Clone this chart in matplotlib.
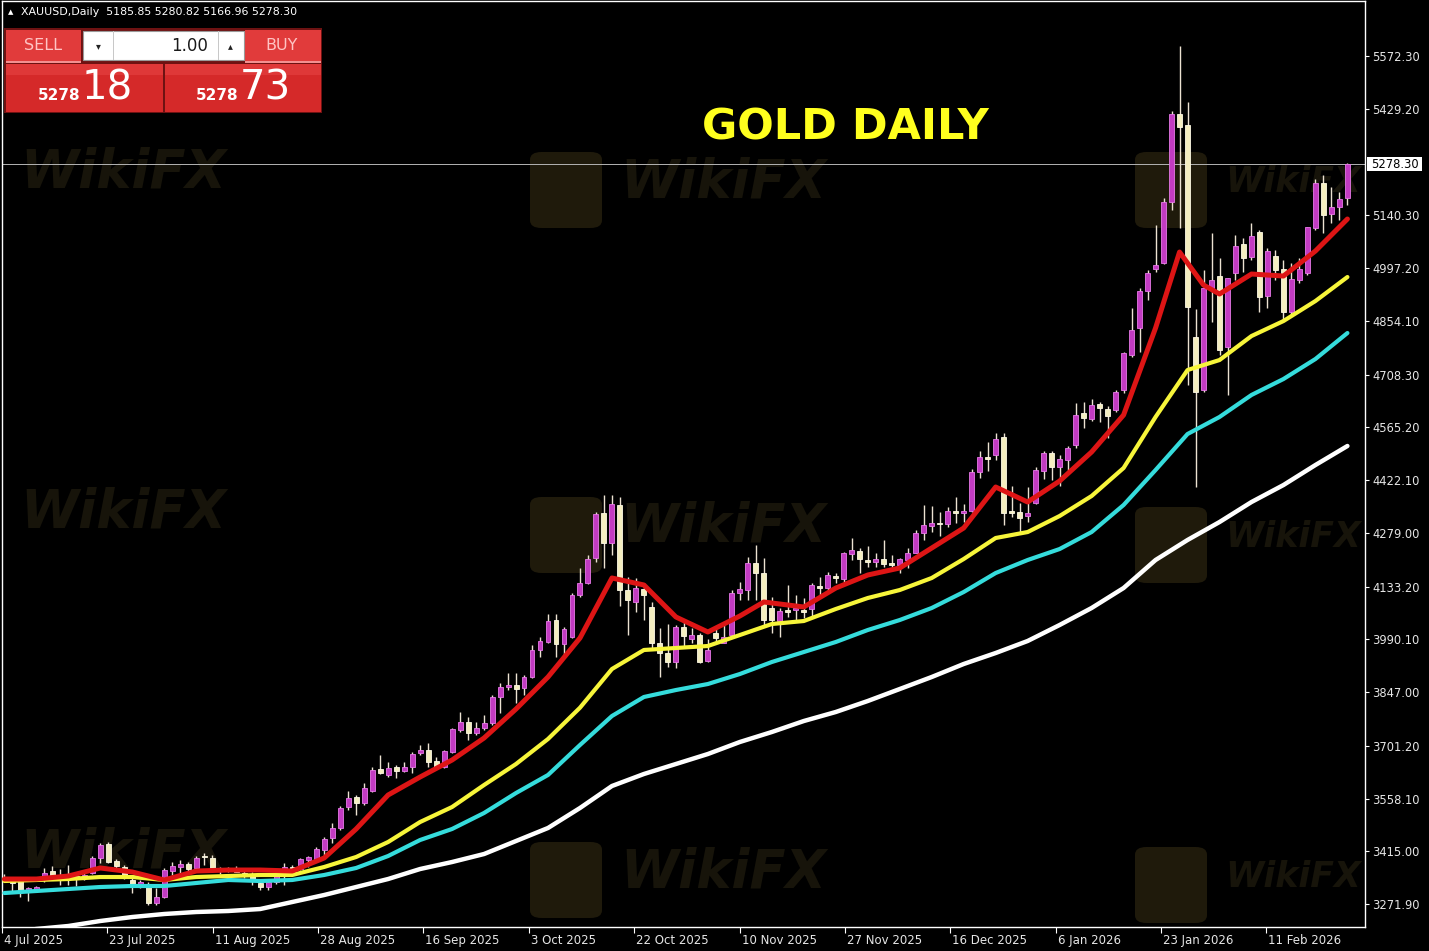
import matplotlib
matplotlib.use("Agg")
import matplotlib.pyplot as plt
from matplotlib.patches import Rectangle, FancyBboxPatch
from matplotlib.transforms import ScaledTranslation

W, H = 1429, 951

# daily candles, one entry per trading day (oldest first)
opens = [
    3345, 3334, 3339.7, 3309.9, 3312.6, 3337.0, 3361.4, 3345.1, 3342.4, 3347.8,
    3345.1, 3356.0, 3396.7, 3434.7, 3388.5, 3372.3, 3337.0, 3323.4, 3323.4, 3274.6,
    3290.9, 3361.4, 3372.3, 3380.4, 3369.6, 3402.1, 3396.7, 3369.0, 3362.0, 3366.0,
    3356.0, 3350.0, 3328.9, 3318.0, 3331.0, 3356.0, 3372.3, 3366.8, 3391.3, 3394.0,
    3418.4, 3451.0, 3478.1, 3535.0, 3562.2, 3545.9, 3578.5, 3638.1, 3621.9, 3643.6,
    3632.7, 3643.6, 3681.6, 3689.7, 3659.8, 3643.6, 3684.3, 3743.9, 3765.6, 3735.8,
    3749.3, 3762.9, 3833.5, 3860.6, 3866.0, 3857.9, 3887.7, 3961.0, 3982.7, 4042.3,
    3977.2, 3996.2, 4110.2, 4142.7, 4210.5, 4332.6, 4251.2, 4354.3, 4123.7, 4091.2,
    4126.4, 4077.6, 3979.9, 3952.8, 3928.4, 4023.4, 3990.8, 4001.6, 3931.1, 4007.1,
    3979.9, 4001.6, 4115.6, 4123.7, 4197.0, 4169.8, 4074.9, 4039.6, 4069.5, 4069.5,
    4069.5, 4072.2, 4134.6, 4129.1, 4161.7, 4153.6, 4221.4, 4229.5, 4205.1, 4199.7,
    4207.8, 4197.0, 4191.6, 4205.1, 4224.1, 4278.3, 4297.3, 4305.4, 4302.7, 4338.0,
    4332.6, 4338.0, 4443.8, 4484.5, 4489.9, 4538.8, 4338.0, 4335.3, 4324.5, 4359.7,
    4446.5, 4495.4, 4457.4, 4476.4, 4517.1, 4603.9, 4587.6, 4628.3, 4614.7, 4612.0,
    4666.3, 4761.2, 4834.5, 4934.8, 4994.5, 5010.8, 5176.3, 5415.0, 5385.2, 4810.1,
    4666.3, 4943.0, 4975.5, 4783.0, 4983.7, 5062.4, 5027.1, 5095.0, 4921.3, 5029.8,
    4994.5, 4877.9, 4964.7, 4983.7, 5105.8, 5227.8, 5143.7, 5162.7, 5185.85,
]
highs = [
    3352, 3337, 3345.1, 3318.0, 3320.7, 3369.6, 3375.0, 3366.8, 3377.7, 3353.3,
    3361.4, 3402.1, 3437.4, 3440.1, 3394.0, 3377.7, 3342.4, 3337.0, 3331.6, 3315.3,
    3369.6, 3385.8, 3391.3, 3385.8, 3402.1, 3410.2, 3404.8, 3372.0, 3372.0, 3375.0,
    3362.0, 3358.7, 3337.0, 3337.0, 3356.0, 3383.1, 3377.7, 3396.7, 3402.1, 3426.5,
    3453.7, 3491.6, 3537.8, 3578.5, 3567.6, 3600.1, 3643.6, 3676.1, 3657.1, 3649.0,
    3657.1, 3684.3, 3703.2, 3708.7, 3670.7, 3689.7, 3749.3, 3792.8, 3779.2, 3765.6,
    3784.6, 3838.9, 3871.4, 3898.6, 3898.6, 3893.1, 3974.5, 3996.2, 4058.6, 4058.6,
    4023.4, 4115.6, 4183.4, 4218.7, 4335.3, 4381.4, 4381.4, 4376.0, 4159.0, 4156.3,
    4142.7, 4091.2, 4020.7, 4031.5, 4028.8, 4042.3, 4020.7, 4007.1, 3990.8, 4020.7,
    4028.8, 4123.7, 4145.4, 4213.2, 4245.8, 4210.5, 4104.7, 4074.9, 4137.3, 4110.2,
    4101.9, 4142.7, 4159.0, 4172.5, 4169.8, 4226.8, 4264.8, 4237.6, 4243.1, 4224.1,
    4259.4, 4218.7, 4210.5, 4237.6, 4286.5, 4354.3, 4351.6, 4335.3, 4348.9, 4376.0,
    4357.0, 4451.9, 4500.8, 4525.2, 4549.6, 4549.6, 4405.8, 4359.7, 4403.1, 4457.4,
    4500.8, 4500.8, 4489.9, 4514.4, 4631.0, 4633.7, 4641.9, 4633.7, 4622.9, 4666.3,
    4769.4, 4888.7, 4943.0, 4991.8, 5113.9, 5187.1, 5423.1, 5599.5, 5447.5, 4886.0,
    4991.8, 5092.2, 5024.3, 4970.1, 5086.8, 5078.6, 5119.3, 5100.3, 5051.5, 5046.1,
    5018.9, 5010.8, 5024.3, 5108.4, 5238.7, 5249.6, 5217.0, 5203.4, 5280.82,
]
lows = [
    3335, 3305, 3290.9, 3280.0, 3307.0, 3331.6, 3337.0, 3323.4, 3323.4, 3320.7,
    3337.0, 3353.3, 3383.1, 3383.1, 3369.6, 3339.7, 3301.7, 3315.0, 3269.2, 3269.2,
    3288.2, 3350.6, 3356.0, 3358.7, 3366.8, 3377.7, 3366.8, 3352.0, 3358.0, 3358.0,
    3342.0, 3323.4, 3309.9, 3309.9, 3326.0, 3323.4, 3358.7, 3364.1, 3372.3, 3385.8,
    3404.8, 3437.4, 3472.6, 3526.9, 3513.3, 3540.5, 3575.8, 3624.6, 3616.4, 3613.7,
    3630.0, 3627.3, 3676.1, 3643.6, 3640.8, 3640.8, 3681.6, 3738.5, 3716.8, 3730.3,
    3743.9, 3757.5, 3790.0, 3852.4, 3817.2, 3838.9, 3885.0, 3942.0, 3980.0, 3942.0,
    3947.4, 3993.5, 4104.7, 4140.0, 4199.7, 4183.4, 4218.7, 4080.3, 4001.6, 4064.0,
    4042.3, 3961.0, 3887.7, 3914.8, 3912.1, 3969.1, 3979.9, 3925.7, 3928.4, 3979.9,
    3979.9, 3996.2, 4096.6, 4096.6, 4096.6, 4028.8, 4007.1, 3996.2, 4050.5, 4036.9,
    4047.8, 4047.8, 4110.2, 4123.7, 4142.7, 4145.4, 4205.1, 4169.8, 4186.1, 4186.1,
    4186.1, 4178.0, 4169.8, 4183.4, 4224.1, 4259.4, 4281.0, 4270.2, 4294.6, 4305.4,
    4308.1, 4335.3, 4427.5, 4446.5, 4476.4, 4300.0, 4321.8, 4281.0, 4308.1, 4357.0,
    4424.8, 4422.1, 4405.8, 4449.2, 4508.9, 4563.2, 4582.2, 4579.5, 4536.1, 4606.6,
    4658.2, 4755.8, 4769.4, 4910.4, 4986.3, 5008.1, 5154.6, 5105.7, 4679.8, 4403.1,
    4660.8, 4850.7, 4761.2, 4652.7, 4964.7, 4986.4, 5018.9, 4877.9, 4888.7, 4964.7,
    4856.2, 4869.8, 4956.5, 4978.2, 5100.3, 5092.2, 5119.3, 5127.4, 5166.96,
]
closes = [
    3341, 3328, 3304.5, 3315.3, 3318.0, 3356.0, 3342.4, 3339.7, 3347.8, 3342.4,
    3350.6, 3396.7, 3432.0, 3385.8, 3375.0, 3345.1, 3323.4, 3331.6, 3274.6, 3290.9,
    3364.1, 3375.0, 3380.4, 3366.8, 3396.7, 3399.4, 3369.6, 3362.0, 3366.0, 3360.0,
    3350.0, 3337.0, 3318.0, 3331.6, 3352.0, 3372.3, 3364.1, 3394.0, 3399.4, 3421.1,
    3448.2, 3478.1, 3532.3, 3559.5, 3545.9, 3586.6, 3635.4, 3627.3, 3640.8, 3632.7,
    3643.6, 3678.8, 3689.7, 3657.1, 3643.6, 3687.0, 3746.6, 3765.6, 3735.8, 3749.3,
    3762.9, 3833.5, 3860.6, 3866.0, 3855.2, 3887.7, 3961.0, 3985.4, 4039.6, 3977.2,
    4017.9, 4110.2, 4142.7, 4207.8, 4329.9, 4251.2, 4357.0, 4123.7, 4096.6, 4129.1,
    4110.2, 3979.9, 3952.8, 3928.4, 4023.4, 3999.0, 4001.6, 3928.4, 3961.0, 3993.5,
    3996.2, 4115.6, 4126.4, 4197.0, 4169.8, 4042.3, 4042.3, 4066.8, 4064.0, 4074.9,
    4064.0, 4137.3, 4129.1, 4164.4, 4156.3, 4224.1, 4232.2, 4207.8, 4199.7, 4207.8,
    4194.3, 4191.6, 4207.8, 4224.1, 4278.3, 4300.0, 4305.4, 4302.7, 4338.0, 4332.6,
    4338.0, 4443.8, 4484.5, 4479.1, 4533.3, 4332.6, 4332.6, 4319.1, 4332.6, 4449.2,
    4495.4, 4457.4, 4479.1, 4508.9, 4598.5, 4590.3, 4625.6, 4617.5, 4595.8, 4660.8,
    4766.7, 4829.0, 4934.8, 4983.7, 5005.4, 5176.3, 5415.0, 5379.7, 4891.4, 4660.8,
    4943.0, 4964.7, 4774.8, 4970.1, 5056.9, 5024.4, 5084.1, 4918.6, 5043.4, 4991.8,
    4877.9, 4967.4, 4994.5, 5108.4, 5227.8, 5141.0, 5162.7, 5184.4, 5278.30,
]

# moving average lines at these bar numbers
red_idx = [0, 4, 8, 12, 16, 20, 24, 28, 32, 36, 40, 44, 48, 52, 56, 60, 64, 68,
           72, 76, 80, 84, 88, 92, 95, 100, 104, 108, 112, 116, 120, 124, 128,
           132, 136, 140, 144, 147, 150, 152, 156, 160, 164, 168]
red_ma = [3339.7, 3339.7, 3347.8, 3369.6, 3358.7, 3337.0, 3361.4, 3364.1, 3364.1,
          3361.4, 3396.7, 3475.4, 3567.6, 3616.4, 3662.5, 3722.2, 3800.9, 3887.7,
          3993.5, 4156.3, 4137.3, 4050.5, 4009.8, 4053.2, 4091.2, 4077.6, 4129.1,
          4164.4, 4183.4, 4237.6, 4291.9, 4403.1, 4362.4, 4419.4, 4498.1, 4598.5,
          4834.5, 5040.6, 4951.1, 4926.7, 4980.9, 4975.5, 5043.4, 5130.2]
ma_idx = list(range(0, 169, 4))
yellow_ma = [3334.3, 3337.0, 3339.7, 3345.1, 3345.1, 3337.0, 3345.1, 3347.8, 3350.6,
             3350.6, 3372.3, 3399.4, 3440.1, 3494.3, 3535.0, 3594.7, 3651.7, 3719.5,
             3804.4, 3909.4, 3961.0, 3966.4, 3971.8, 4001.6, 4031.5, 4039.6, 4072.2,
             4102.0, 4123.7, 4156.3, 4207.8, 4264.8, 4281.0, 4324.5, 4378.7, 4454.7,
             4593.1, 4720.5, 4747.6, 4812.7, 4853.4, 4907.7, 4972.8]
cyan_ma = [3301.7, 3307.2, 3312.6, 3318.0, 3320.7, 3320.7, 3328.9, 3337.0, 3334.3,
           3337.0, 3350.6, 3369.6, 3402.1, 3445.5, 3475.4, 3518.8, 3573.0, 3621.9,
           3703.2, 3781.9, 3833.5, 3852.4, 3868.7, 3895.8, 3928.4, 3955.5, 3982.7,
           4015.2, 4042.3, 4074.9, 4118.3, 4169.8, 4205.1, 4234.9, 4281.0, 4354.3,
           4449.2, 4546.9, 4593.1, 4652.8, 4696.1, 4750.4, 4820.9]
white_ma = [3193.2, 3204.1, 3212.2, 3225.8, 3236.6, 3244.8, 3250.2, 3252.9, 3258.3,
            3277.3, 3296.3, 3318.0, 3339.7, 3366.8, 3385.8, 3407.5, 3442.8, 3478.1,
            3532.3, 3592.0, 3624.6, 3651.7, 3678.8, 3711.4, 3738.5, 3768.3, 3792.8,
            3822.6, 3855.1, 3887.7, 3923.0, 3952.8, 3985.4, 4028.8, 4074.9, 4129.1,
            4205.1, 4259.4, 4308.1, 4362.4, 4408.5, 4462.8, 4514.4]

price_ticks = [3271.90, 3415.00, 3558.10, 3701.20, 3847.00, 3990.10, 4133.20,
               4279.00, 4422.10, 4565.20, 4708.30, 4854.10, 4997.20, 5140.30,
               5429.20, 5572.30]
date_labels = ["4 Jul 2025", "23 Jul 2025", "11 Aug 2025", "28 Aug 2025",
               "16 Sep 2025", "3 Oct 2025", "22 Oct 2025", "10 Nov 2025",
               "27 Nov 2025", "16 Dec 2025", "6 Jan 2026", "23 Jan 2026",
               "11 Feb 2026"]
symbol = "XAUUSD,Daily"
last_price = 5278.30
lot = "1.00"
bid_big, bid_small = "5278", "18"
ask_big, ask_small = "5278", "73"
title = "GOLD DAILY"

BULL = "#c23bc2"
BULL_EDGE = "#e77ae7"
BEAR = "#f4eec0"
WICK = "#ece2d2"


def fx(x):
    return x / W


def fy(y):
    return 1 - y / H


fig = plt.figure(figsize=(W / 100, H / 100), dpi=100, facecolor="black")
ax = fig.add_axes([fx(2), 24 / H, 1363 / W, 926 / H])
ax.set_facecolor("black")
ax.set_xlim(-0.16, 170.2)
ax.set_ylim(3209.5, 5721.6)

# watermark (very faint)
for wx, wy, fs in [(-40, 180, 38), (560, 190, 38), (1165, 190, 25),
                   (-40, 520, 38), (560, 535, 38), (1165, 545, 25),
                   (-40, 860, 38), (560, 880, 38), (1165, 885, 25)]:
    ax.add_patch(FancyBboxPatch((fx(wx - 30), fy(wy + 38)), 72 / W, 76 / H,
                                boxstyle="round,pad=0,rounding_size=0.008",
                                transform=fig.transFigure, facecolor="#1f1a0b",
                                edgecolor="none", zorder=0))
    ax.text(fx(wx + 60), fy(wy - 8), "WikiFX", transform=fig.transFigure,
            color="#17140a", fontsize=fs, fontweight="bold", style="italic",
            va="center", ha="left", clip_on=True, zorder=0)

# candles
n = len(closes)
for i in range(n):
    o, h, l, c = opens[i], highs[i], lows[i], closes[i]
    up = c >= o
    ax.vlines(i, l, h, color=WICK, lw=1.0, zorder=2)
    body = max(abs(c - o), 2.5)
    ax.bar(i, body, bottom=min(o, c), width=0.62,
           color=BULL if up else BEAR,
           edgecolor=BULL_EDGE if up else "#fffbe6", linewidth=0.6, zorder=2.5)

# moving averages
ax.plot(ma_idx, white_ma, color="white", lw=3.2, solid_capstyle="round",
        solid_joinstyle="round", zorder=3)
ax.plot(ma_idx, cyan_ma, color="#35dcdc", lw=3.0, solid_capstyle="round",
        solid_joinstyle="round", zorder=3.1)
ax.plot(ma_idx, yellow_ma, color="#f7f53a", lw=3.0, solid_capstyle="round",
        solid_joinstyle="round", zorder=3.2)
ax.plot(red_idx, red_ma, color="#dd1515", lw=3.6, solid_capstyle="round",
        solid_joinstyle="round", zorder=3.3)

# current price line
ax.axhline(last_price, color="#b4b4b4", lw=0.7, zorder=1.5)

# axes styling
for sp in ax.spines.values():
    sp.set_color("white")
    sp.set_linewidth(1.0)
ax.yaxis.tick_right()
ax.set_yticks(price_ticks)
ax.set_yticklabels([f"{v:.2f}" for v in price_ticks])
ax.tick_params(axis="y", colors="white", labelcolor="#e6e6e6", length=3,
               width=0.8, pad=2, labelsize=8.3)

tick_pos = [-0.3 + 13.18 * k for k in range(len(date_labels))]
ax.set_xticks(tick_pos)
ax.set_xticklabels(date_labels, ha="left")
ax.tick_params(axis="x", colors="white", labelcolor="#e6e6e6", length=4,
               width=0.8, pad=1, labelsize=8.5)
shift = ScaledTranslation(2 / 100, 0, fig.dpi_scale_trans)
for lab in ax.get_xticklabels():
    lab.set_transform(lab.get_transform() + shift)

# price label on the axis
fig.patches.append(Rectangle((fx(1367), fy(171)), 55 / W, 14 / H,
                             transform=fig.transFigure, facecolor="white",
                             edgecolor="none", zorder=5))
fig.text(fx(1394.5), fy(164), f"{last_price:.2f}", color="black",
         fontsize=8.3, ha="center", va="center", zorder=6)

# header
fig.text(fx(11), fy(12), "\u25b2", color="white", fontsize=5, ha="center",
         va="center")
fig.text(fx(21), fy(12),
         f"{symbol}  {opens[-1]:.2f} {highs[-1]:.2f} {lows[-1]:.2f} {closes[-1]:.2f}",
         color="white", fontsize=7.9, ha="left", va="center")

# title
fig.text(fx(845), fy(127), title, color="#ffff1e", fontsize=31,
         fontweight="bold", ha="center", va="center")


# one-click trading panel
def box(x0, y0, x1, y1, fc, ec="none", lw=0.0, z=5):
    fig.patches.append(Rectangle((fx(x0), fy(y1)), (x1 - x0) / W, (y1 - y0) / H,
                                 transform=fig.transFigure, facecolor=fc,
                                 edgecolor=ec, linewidth=lw, zorder=z))


box(4, 28, 322, 113, "#6e1212")
box(6, 30, 81, 62, "#e13b3b")
box(245, 30, 321, 62, "#e13b3b")
box(6, 61, 81, 62.5, "#f39090", z=6)
box(245, 61, 321, 62.5, "#f39090", z=6)
box(83, 31, 244, 60, "white", ec="#9a9a9a", lw=0.8)
box(112.5, 31, 113.5, 60, "#c8c8c8", z=6)
box(217.5, 31, 218.5, 60, "#c8c8c8", z=6)
box(6, 64, 163, 112, "#d52929")
box(165, 64, 321, 112, "#d52929")
box(6, 64, 163, 75, "#df3838", z=5.5)
box(165, 64, 321, 75, "#df3838", z=5.5)

fig.text(fx(43), fy(46), "SELL", color="#ffc4c4", fontsize=11.5, ha="center",
         va="center", zorder=7)
fig.text(fx(282), fy(46), "BUY", color="#ffc4c4", fontsize=11.5, ha="center",
         va="center", zorder=7)
fig.text(fx(98), fy(46), "\u25be", color="#222222", fontsize=7, ha="center",
         va="center", zorder=7)
fig.text(fx(230), fy(46), "\u25b4", color="#222222", fontsize=7, ha="center",
         va="center", zorder=7)
fig.text(fx(208), fy(46), lot, color="#1a1a1a", fontsize=12, ha="right",
         va="center", zorder=7)
fig.text(fx(59), fy(96), bid_big, color="white", fontsize=11, fontweight="bold",
         ha="center", va="center", zorder=7)
fig.text(fx(107), fy(88), bid_small, color="white", fontsize=29, ha="center",
         va="center", zorder=7)
fig.text(fx(217), fy(96), ask_big, color="white", fontsize=11, fontweight="bold",
         ha="center", va="center", zorder=7)
fig.text(fx(265), fy(88), ask_small, color="white", fontsize=29, ha="center",
         va="center", zorder=7)

fig.savefig("out.png", dpi=100, facecolor="black")
